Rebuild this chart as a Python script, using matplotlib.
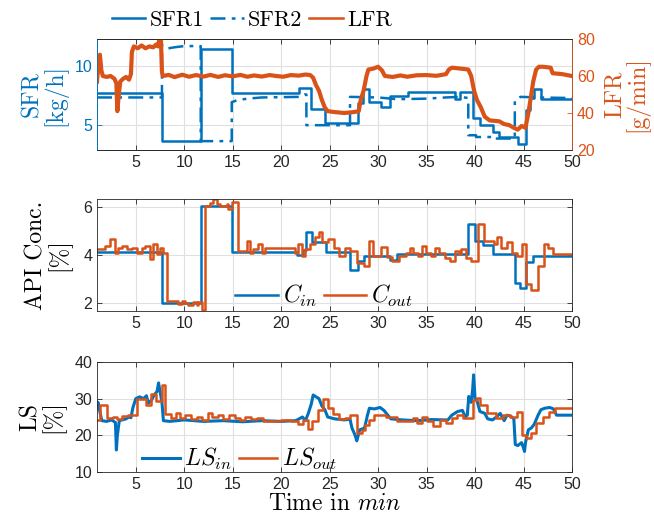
import matplotlib
matplotlib.use("Agg")
import matplotlib.pyplot as plt
from matplotlib.lines import Line2D

# colours (MATLAB defaults)
blue = "#0072BD"
orange = "#D95319"

# ---- top panel: feed rates ----
sfr1_t = [1, 7.7, 11.75, 14.9, 21.8, 23.1, 24.5, 27.9, 28.45, 29.1, 30.3, 31.2, 33.1,
          37.9, 38.4, 39.8, 40.5, 41.8, 42.5, 44.4, 45.3, 45.7, 46.1, 46.8, 50]
sfr1_v = [7.75, 3.65, 11.45, 7.75, 8.15, 6.35, 5.15, 6.9, 8.1, 7.0, 6.55, 7.45, 7.8,
          7.25, 7.8, 5.6, 5.0, 4.4, 4.0, 3.45, 6.3, 7.3, 8.1, 7.25, 7.25]

sfr2_t = [1, 7.7, 7.7, 8.3, 9.0, 10.0, 11.7, 11.7, 14.9, 14.9, 15.4, 16.5, 18.0, 22.0,
          22.4, 22.6, 22.6, 27.1, 27.1, 30.0, 32.0, 35.0, 37.0, 38.5, 39.3, 39.3,
          40.1, 40.1, 41.9, 41.9, 44.1, 44.1, 44.7, 46.5, 50]
sfr2_v = [7.35, 7.35, 11.8, 11.5, 11.6, 11.7, 11.7, 3.65, 3.65, 6.95, 7.1, 7.25, 7.35, 7.4,
          7.6, 7.6, 5.0, 5.0, 7.4, 7.35, 7.2, 7.25, 7.35, 7.4, 7.3, 4.15,
          4.15, 4.0, 4.0, 3.87, 3.87, 7.1, 7.4, 7.35, 7.3]

lfr_t = [1.0, 1.15, 1.3, 1.45, 1.6, 2.0, 2.4, 2.8, 3.0, 3.1, 3.25, 3.4, 3.7, 4.0, 4.3,
         4.5, 4.6, 4.8, 5.2, 5.6, 6.0, 6.4, 6.8, 7.1, 7.3, 7.45, 7.6, 7.7, 7.8,
         8.4, 9.0, 9.8, 10.5, 11.2, 12.0, 12.7, 13.5, 14.2, 15.0, 15.8, 16.5, 17.2,
         18.0, 18.8, 19.5, 20.2, 21.0, 21.8, 22.5, 23.0, 23.3, 23.6,
         23.9, 24.2, 24.5, 24.8, 25.5, 26.5, 27.5, 28.0, 28.2, 28.5, 28.8, 29.0, 29.5,
         30.0, 30.4, 30.7, 31.5, 32.3, 33.0, 34.0, 35.0, 36.0, 37.0, 37.3, 37.6, 38.5,
         39.3, 39.6, 39.9, 40.2, 40.6, 41.0, 41.5, 42.5, 43.0, 43.5, 44.0, 44.4, 44.8,
         45.2, 45.5, 45.8, 46.0, 46.3, 46.6, 47.0, 47.8, 48.0, 49.0, 50.0]
lfr_v = [57, 66, 71.5, 63, 60, 59.5, 60, 58.5, 56, 41, 50, 57, 58.5, 59.5, 58,
         61, 73, 76, 75, 76.5, 75, 76, 75.5, 77, 76, 80.5, 79, 62, 60,
         60.6, 59.4, 60.7, 59.6, 60.5, 59.7, 60.6, 59.5, 60.4, 59.8, 60.6, 59.6, 60.3,
         59.7, 60.5, 60.0, 59.6, 60.5, 60.2, 60.8, 60.5, 59, 55,
         52, 47, 43, 41, 40.5, 40, 40.5, 41, 47, 52, 60, 63.5, 64,
         65, 63, 60, 59.5, 60.3, 59.6, 60.4, 60.5, 60.1, 61, 63.5, 64.5, 64,
         63.5, 60, 52, 47, 43, 38, 36, 35.5, 34, 33.5, 32, 31, 33,
         32, 40, 50, 57, 63.5, 65, 65, 64.5, 61.5, 61, 60]

# ---- middle panel: API concentration ----
cin_t = [1, 7.7, 11.7, 14.9, 21.6, 22.2, 22.6, 23.2, 24.6, 27.1, 27.9, 28.5, 31.2, 31.9,
         39.3, 40.0, 40.8, 41.9, 44.1, 44.6, 45.3, 46.0, 50]
cin_v = [4.14, 2.02, 6.02, 4.14, 3.98, 4.2, 4.94, 4.52, 4.12, 3.36, 3.75, 3.96, 3.78, 4.05,
         5.28, 4.58, 4.4, 4.05, 2.85, 2.63, 3.7, 3.96, 3.96]

cout_t = [1, 1.83, 2.34, 2.86, 3.2, 3.54, 4.06, 4.57, 5.09, 5.6, 5.95, 6.46, 6.81, 7.15,
          7.5, 7.84, 8.18, 9.39, 9.73, 10.07, 10.42, 10.93, 11.27, 11.45, 11.79, 12.13,
          12.65, 12.99, 13.34, 13.68, 14.37, 14.54, 14.88, 15.57, 16.43, 16.77, 17.12,
          17.63, 17.98, 18.32, 21.07, 21.41, 21.76, 22.1, 22.44, 22.96, 23.47, 23.9,
          24.16, 24.85, 25.4, 26.0, 26.6, 27.1, 27.8, 28.5, 29.1, 29.5, 30.3, 30.9, 31.4,
          32.2, 32.9, 33.3, 33.6, 34.1, 34.5, 34.9, 35.5, 35.9, 36.3, 36.9, 37.4, 37.9,
          38.3, 38.6, 39.1, 39.6, 40.3, 40.9, 42.0, 42.3, 42.7, 43.3, 43.8, 44.3, 44.8,
          45.3, 45.8, 46.5, 47.1, 47.5, 48.0, 50]
cout_v = [4.24, 4.38, 4.66, 4.10, 4.31, 4.38, 4.24, 4.31, 4.10, 4.31, 4.38, 3.82, 4.45, 4.03,
          4.31, 4.10, 2.10, 1.96, 2.10, 2.0, 1.94, 2.07, 1.94, 2.07, 1.73, 6.01,
          6.15, 6.33, 6.12, 6.05, 6.12, 5.91, 6.19, 4.17, 4.59, 4.10, 4.24,
          4.45, 4.10, 4.31, 4.31, 4.10, 4.45, 3.96, 4.24, 4.45, 4.73, 4.95,
          4.55, 4.65, 4.3, 3.96, 4.3, 4.17, 3.65, 3.55, 4.6, 3.95, 4.35, 3.9, 3.75,
          3.96, 4.10, 4.31, 4.10, 3.96, 4.38, 4.10, 3.96, 4.31, 4.10, 3.89, 3.75, 4.17,
          4.03, 4.24, 3.89, 3.75, 5.28, 4.6, 4.45, 4.73, 4.31, 4.52, 4.10, 3.96, 4.45,
          2.78, 2.57, 3.54, 4.45, 4.31, 4.03, 4.03]

# ---- bottom panel: LS ----
lsin_t = [1.0, 1.1, 1.25, 1.5, 2.0, 2.5, 2.9, 3.0, 3.1, 3.3, 3.6, 4.0, 4.3, 4.5, 4.7, 5.0,
          5.4, 5.8, 6.1, 6.3, 6.6, 6.9, 7.2, 7.35, 7.5, 7.7, 7.85, 8.5, 10, 12, 14, 16,
          18, 20, 21.5, 22.2, 22.5, 22.8, 23.1, 23.3, 23.6, 23.9, 24.2, 24.5, 24.8,
          25.5, 26.5, 27.1, 27.3, 27.6, 27.8, 27.9, 28.1, 28.6, 28.9, 29.1, 29.6, 30.2,
          30.6, 31.0, 31.3, 32.5, 34, 35.5, 37.2, 37.6, 38.2, 38.7, 39.0, 39.2, 39.35,
          39.6, 39.75, 39.85, 40.0, 40.2, 40.5, 41.0, 41.3, 41.8, 42.2, 42.6, 43.0,
          43.3, 43.7, 44.0, 44.15, 44.4, 44.8, 45.0, 45.1, 45.2, 45.5, 45.8, 46.1,
          46.5, 46.8, 47.2, 47.7, 48.1, 48.4, 49.2, 50]
lsin_v = [27.5, 29, 27, 24, 23.8, 24.2, 23.5, 16, 20, 24, 24.2, 24.5, 25, 24.8, 27.5, 30,
          30.5, 30, 30.8, 28.8, 29.5, 31, 32, 34.3, 32, 29, 24, 23.8, 24.2, 23.8, 24, 23.7,
          24, 23.8, 24, 25, 24, 26, 28.5, 31, 30.5, 30, 28, 27, 25,
          24.5, 24.2, 24.4, 22, 20.2, 18.5, 19.5, 21.5, 22, 25.5, 27.4, 27.2, 27.6,
          26.8, 25.5, 24.5, 24.2, 24, 24.3, 24.2, 25.5, 26.5, 26.8, 25, 25.5, 30.6,
          29, 32.5, 36.5, 30, 29.5, 26.5, 26, 24.5, 24.2, 25, 26, 24,
          25.5, 25.2, 24.5, 17.5, 17.2, 18, 16.5, 15.6, 18, 21.5, 22, 23,
          25.5, 27, 27.4, 27.6, 27.2, 25.5, 25.5, 25.5]

lsout_t = [1.0, 1.3, 2.0, 2.6, 3.1, 3.6, 4.2, 4.75, 5.1, 6.1, 6.6, 7.1, 7.7, 8.0, 8.6, 9.1,
           9.6, 10.1, 10.7, 11.3, 11.8, 12.4, 12.9, 13.5, 14.0, 14.6, 15.2, 15.8, 16.3,
           16.9, 17.5, 18.1, 19.0, 20.0, 21.0, 21.7, 22.2, 22.8, 23.2, 23.8, 24.3, 24.8,
           25.3, 26.0, 26.6, 27.1, 27.8, 28.3, 28.6, 29.1, 29.6, 30.8, 31.9, 33.6, 34.0,
           34.5, 35.0, 35.7, 36.4, 37.0, 37.6, 38.1, 38.8, 39.8, 40.2, 40.5, 41.2, 42.2,
           42.9, 43.6, 44.3, 44.8, 45.3, 45.8, 46.3, 47.0, 47.6, 48.2, 50]
lsout_v = [24.2, 28.2, 24.7, 25.0, 24.5, 25.2, 25.6, 25.5, 30.0, 28.3, 31.2, 29.3, 33.8,
           25.8, 24.6, 26.0, 24.8, 25.6, 24.4, 25.0, 24.3, 26.2, 25.0, 25.6, 24.4, 25.6,
           24.8, 24.2, 25.0, 24.4, 24.8, 24.0, 23.9, 24.2, 23.8, 23.2, 24.3, 21.8, 23.8,
           27.0, 29.8, 27.5, 25.8, 24.5, 24.8, 25.5, 20.6, 21.5, 22.7, 24.2, 25.5, 25.0,
           23.8, 24.7, 23.4, 25.1, 23.8, 22.6, 24.2, 23.4, 24.7, 25.5, 24.7, 29.7, 30.2, 28.3,
           26.1, 24.7, 25.5, 25.1, 26.5, 20.2, 19.3, 20.6, 23.4, 25.1, 26.3, 27.4, 27.4]

label_font = "cmr10"
plt.rcParams["mathtext.fontset"] = "cm"
plt.rcParams["font.family"] = "Liberation Sans"
plt.rcParams["font.size"] = 11.5
plt.rcParams["axes.linewidth"] = 0.6

fig = plt.figure(figsize=(6.54, 5.24), dpi=100)
left, width = 97 / 654, 475 / 654
ax1 = fig.add_axes([left, 1 - 150 / 524, width, 111 / 524])
ax2 = fig.add_axes([left, 1 - 311 / 524, width, 112 / 524])
ax3 = fig.add_axes([left, 1 - 472 / 524, width, 110 / 524])

dashdot = (0, (6, 2.5, 1.5, 2.5))


def style_axes(ax, right=True):
    ax.set_xlim(1, 50)
    ax.set_xticks(range(5, 51, 5))
    ax.grid(True, color="0.88", linewidth=0.8)
    ax.set_axisbelow(True)
    ax.tick_params(direction="in", length=3.5, width=0.6, top=True, right=right,
                   labelsize=11.5, colors="0.15")
    for s in ax.spines.values():
        s.set_color("0.15")


# top panel
style_axes(ax1, right=False)
ax1.plot(sfr1_t, sfr1_v, color=blue, lw=1.8, drawstyle="steps-post")
ax1.plot(sfr2_t, sfr2_v, color=blue, lw=1.8, linestyle=dashdot)
ax1.set_ylim(2.9, 12.3)
ax1.set_yticks([5, 10])
ax1.tick_params(axis="y", colors=blue)
ax1.spines["left"].set_color(blue)
ax1.set_ylabel("SFR\n[kg/h]", fontfamily=label_font, fontsize=17, color=blue,
               linespacing=0.95)
ax1.yaxis.set_label_coords(-0.062, 0.5)

ax1r = ax1.twinx()
ax1r.plot(lfr_t, lfr_v, color=orange, lw=3.0)
ax1r.set_ylim(20, 80)
ax1r.set_yticks([20, 40, 60, 80])
ax1r.tick_params(axis="y", direction="in", length=3.5, width=0.6, colors=orange,
                 labelsize=11.5)
ax1r.spines["right"].set_color(orange)
ax1r.spines["left"].set_color(blue)
ax1r.spines["top"].set_color("0.15")
ax1r.spines["bottom"].set_color("0.15")
ax1r.set_ylabel("LFR\n[g/min]", fontfamily=label_font, fontsize=17, color=orange,
                linespacing=0.95)
ax1r.yaxis.set_label_coords(1.066, 0.5)

handles = [Line2D([], [], color=blue, lw=1.8),
           Line2D([], [], color=blue, lw=1.8, linestyle=dashdot),
           Line2D([], [], color=orange, lw=1.8)]
fig.legend(handles=handles, labels=["SFR1", "SFR2", "LFR"], loc="center left",
           bbox_to_anchor=(0.14, 0.962), ncol=3, frameon=False,
           prop={"family": label_font, "size": 16},
           handlelength=1.5, handletextpad=0.2, columnspacing=0.3)

# middle panel
style_axes(ax2)
ax2.plot(cin_t, cin_v, color=blue, lw=1.8, drawstyle="steps-post", label="$C_{in}$")
ax2.plot(cout_t, cout_v, color=orange, lw=1.8, drawstyle="steps-post", label="$C_{out}$")
ax2.set_ylim(1.68, 6.32)
ax2.set_yticks([2, 4, 6])
ax2.set_ylabel("API Conc.\n[%]", fontfamily=label_font, fontsize=17, linespacing=0.95)
ax2.yaxis.set_label_coords(-0.055, 0.5)
ax2.legend(loc="center", bbox_to_anchor=(0.478, 0.13), ncol=2, frameon=False,
           prop={"size": 17}, handlelength=1.8, handletextpad=0.2, columnspacing=0.3)

# bottom panel
style_axes(ax3)
ax3.plot(lsin_t, lsin_v, color=blue, lw=2.2, label="$LS_{in}$")
ax3.plot(lsout_t, lsout_v, color=orange, lw=1.8, drawstyle="steps-post", label="$LS_{out}$")
ax3.set_ylim(10, 40)
ax3.set_yticks([10, 20, 30, 40])
ax3.set_ylabel("LS\n[%]", fontfamily=label_font, fontsize=17, linespacing=0.95)
ax3.yaxis.set_label_coords(-0.066, 0.5)
ax3.set_xlabel("Time in $min$", fontfamily=label_font, fontsize=17, labelpad=1)
ax3.legend(loc="center", bbox_to_anchor=(0.3, 0.115), ncol=2, frameon=False,
           prop={"size": 17}, handlelength=1.6, handletextpad=0.2, columnspacing=0.3)

fig.savefig("out.png", dpi=100)
